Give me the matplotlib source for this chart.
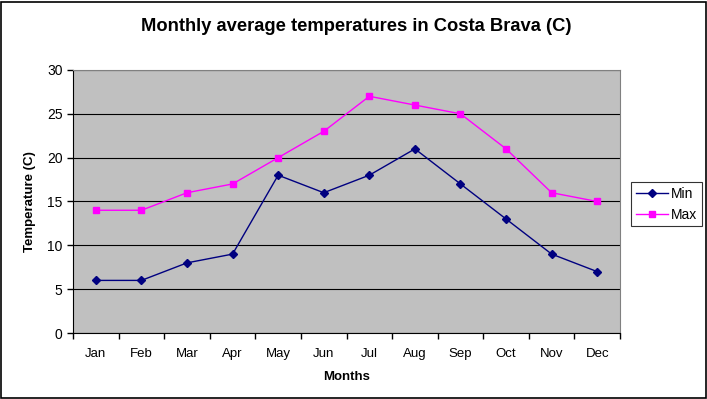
import matplotlib
matplotlib.use("Agg")
import matplotlib.pyplot as plt
from matplotlib.patches import Rectangle

plt.rcParams['font.family'] = ['Liberation Sans', 'DejaVu Sans']

months = ["Jan", "Feb", "Mar", "Apr", "May", "Jun", "Jul", "Aug", "Sep", "Oct", "Nov", "Dec"]
min_temps = [6, 6, 8, 9, 18, 16, 18, 21, 17, 13, 9, 7]
max_temps = [14, 14, 16, 17, 20, 23, 27, 26, 25, 21, 16, 15]
y_ticks = [0, 5, 10, 15, 20, 25, 30]

fig = plt.figure(figsize=(7.07, 3.99), dpi=100)
fig.patches.append(Rectangle((0.002, 0.002), 0.996, 0.994, transform=fig.transFigure,
                             fill=False, edgecolor='black', linewidth=1.2))
ax = fig.add_axes([0.1033, 0.1654, 0.7737, 0.6592])
ax.set_facecolor('#c0c0c0')

x = list(range(1, len(months) + 1))
ax.plot(x, min_temps, color='#000080', marker='D', markersize=4, linewidth=1, label='Min')
ax.plot(x, max_temps, color='#ff00ff', marker='s', markersize=4.5, linewidth=1, label='Max')

ax.set_xlim(0.5, len(months) + 0.5)
ax.set_ylim(0, 30)
ax.set_yticks(y_ticks)
ax.yaxis.grid(True, color='black', linewidth=0.8)
ax.set_axisbelow(True)

ax.set_xticks([i + 0.5 for i in range(0, len(months) + 1)])
ax.set_xticklabels([])
ax.set_xticks(x, minor=True)
ax.set_xticklabels(months, minor=True, fontsize=9.5)
ax.tick_params(axis='x', which='minor', length=0, pad=10.5)
ax.tick_params(axis='x', which='major', length=4, direction='out', width=1)
ax.tick_params(axis='y', length=4, direction='out', labelsize=10, width=1)

for s in ['top', 'right']:
    ax.spines[s].set_color('#808080')
    ax.spines[s].set_linewidth(0.8)
ax.spines['left'].set_color('black')
ax.spines['bottom'].set_color('black')

ax.set_title("Monthly average temperatures in Costa Brava (C)", fontsize=13.2,
             fontweight='bold', pad=28, x=0.518)
ax.set_xlabel("Months", fontsize=9.5, fontweight='bold', labelpad=8.5)
ax.set_ylabel("Temperature (C)", fontsize=9.5, fontweight='bold', labelpad=8)

leg = ax.legend(loc='center left', bbox_to_anchor=(1.02, 0.49), fontsize=10,
                frameon=True, fancybox=False, edgecolor='black', borderpad=0.35,
                handlelength=2.3, handletextpad=0.2, labelspacing=0.5, borderaxespad=0,
                markerscale=0.9)
leg.get_frame().set_linewidth(0.8)

fig.savefig("out.png", dpi=100)
